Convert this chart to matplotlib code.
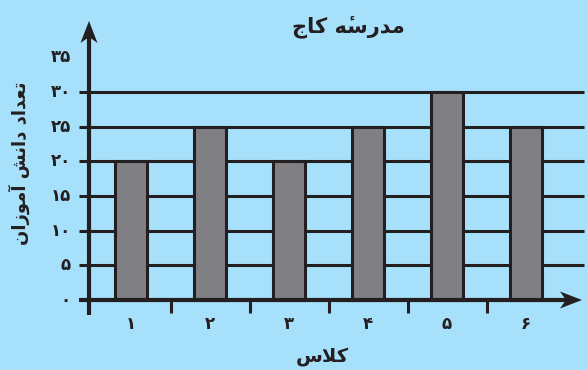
import matplotlib.pyplot as plt
import numpy as np

# data (Persian text stored in visual order with Arabic presentation forms,
# since matplotlib does no shaping/bidi of its own)
classes = [1, 2, 3, 4, 5, 6]
class_labels = ['\u06f1', '\u06f2', '\u06f3', '\u06f4', '\u06f5', '\u06f6']
students = [20, 25, 20, 25, 30, 25]
y_ticks = [0, 5, 10, 15, 20, 25, 30, 35]
y_tick_labels = ['\u06f0', '\u06f5', '\u06f1\u06f0', '\u06f1\u06f5', '\u06f2\u06f0',
                 '\u06f2\u06f5', '\u06f3\u06f0', '\u06f3\u06f5']
title = '\uFE9D\uFE8E\uFB90 \uFEEA\u0654\uFEB3\uFEAD\uFEAA\uFEE3'    # مدرسهٔ کاج
x_label = '\uFEB1\uFEFC\uFB90'                                         # کلاس
y_label = '\uFEE5\uFE8D\uFEAF\uFEEE\uFEE3\uFE81 \uFEB6\uFEE7\uFE8D\uFEA9 \uFEA9\uFE8D\uFEAA\uFECC\uFE97'  # تعداد دانش آموزان

bg = '#a7e0fa'
ink = '#231f20'
bar_color = '#807f84'

PX_X = 79.0    # px per class
PX_Y = 6.94    # px per student

fig = plt.figure(figsize=(5.87, 3.70), dpi=100, facecolor=bg)
ax = fig.add_axes([0, 0, 1, 1])
ax.set_facecolor(bg)
ax.axis('off')

ax.set_xlim(1 - 131 / PX_X, 1 + 456 / PX_X)
ax.set_ylim(-70 / PX_Y, 300 / PX_Y)

x_axis = 1 - 42 / PX_X
grid_l, grid_r = 1 - 52 / PX_X, 1 + 453 / PX_X

# horizontal lines
for v in y_ticks[1:-1]:
    ax.plot([grid_l, grid_r], [v, v], color=ink, lw=2.2, zorder=1, solid_capstyle='butt')

# bars
ax.bar(classes, students, width=0.4, color=bar_color, edgecolor=ink, linewidth=2.2, zorder=2)

# axes lines
y_top = 279 / PX_Y
x_right = 1 + 451 / PX_X
ax.plot([x_axis, x_axis], [-15 / PX_Y, y_top - 12 / PX_Y], color=ink, lw=3, zorder=3,
        solid_capstyle='butt')
ax.plot([grid_l, x_right - 12 / PX_X], [0, 0], color=ink, lw=3, zorder=3,
        solid_capstyle='butt')

# stealth arrowheads (offsets in px)
head = np.array([[0, 0], [-8.5, -22], [0, -16], [8.5, -22]])
ax.fill(x_axis + head[:, 0] / PX_X, y_top + head[:, 1] / PX_Y, color=ink, lw=0, zorder=4)
ax.fill(x_right + head[:, 1] / PX_X, head[:, 0] / PX_Y, color=ink, lw=0, zorder=4)

# x ticks between classes
for xt in np.arange(1.5, 6, 1.0):
    ax.plot([xt, xt], [0, -13 / PX_Y], color=ink, lw=2.2, zorder=3, solid_capstyle='butt')

# tick labels
for v, lab in zip(y_ticks, y_tick_labels):
    ax.text(1 - 60 / PX_X, v, lab, ha='right', va='center', fontsize=12,
            fontweight='bold', color=ink, family='DejaVu Sans')
for c, lab in zip(classes, class_labels):
    ax.text(c, -3.4, lab, ha='center', va='center', fontsize=12,
            fontweight='bold', color=ink, family='DejaVu Sans')

fig.text(348 / 587, 1 - 27 / 370, title, ha='center', va='center', fontsize=15,
         fontweight='bold', color=ink, family='DejaVu Sans')
fig.text(322 / 587, 1 - 357 / 370, x_label, ha='center', va='center', fontsize=14,
         fontweight='bold', color=ink, family='DejaVu Sans')
fig.text(19 / 587, 1 - 163 / 370, y_label, ha='center', va='center', fontsize=13,
         fontweight='bold', color=ink, rotation=90, family='DejaVu Sans')

fig.savefig('out.png', dpi=100, facecolor=bg)
